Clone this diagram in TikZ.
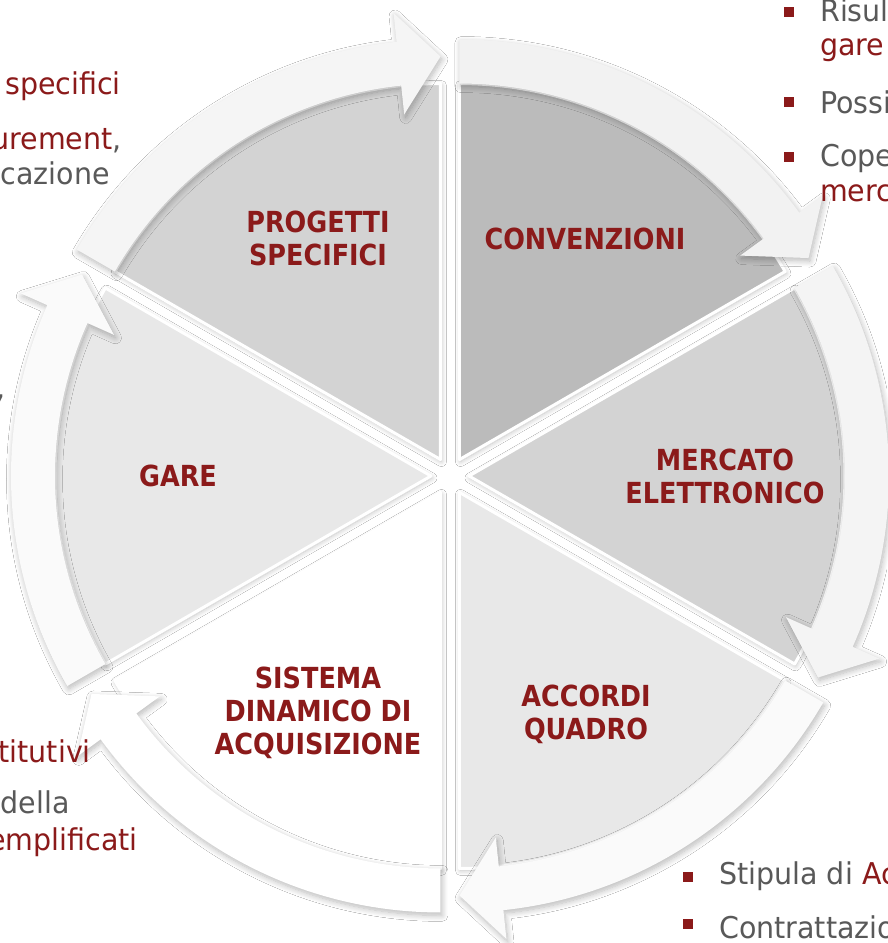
\documentclass[tikz,border=0pt]{standalone}
\usepackage{fontspec}
\setmainfont{DejaVu Sans}[FakeStretch=0.95]
\newfontfamily\lblfont{DejaVu Sans}[FakeStretch=0.88]
\usetikzlibrary{shadows.blur}
\definecolor{txtred}{HTML}{8B1A1A}
\definecolor{txtgrey}{HTML}{595959}
\definecolor{cP}{HTML}{D3D3D3}
\definecolor{cC}{HTML}{BBBBBB}
\definecolor{cM}{HTML}{D3D3D3}
\definecolor{cA}{HTML}{E8E8E8}
\definecolor{cS}{HTML}{FFFFFF}
\definecolor{cG}{HTML}{E8E8E8}
\definecolor{aP}{HTML}{F5F5F5}
\definecolor{aC}{HTML}{F2F2F2}
\definecolor{aM}{HTML}{F4F4F4}
\definecolor{aA}{HTML}{FAFAFA}
\definecolor{aS}{HTML}{FFFFFF}
\definecolor{aG}{HTML}{FAFAFA}
\begin{document}
\begin{tikzpicture}[x=1pt,y=1pt,
  slice/.style={draw=white, line width=3pt, line join=round,
    blur shadow={shadow xshift=1pt, shadow yshift=-2pt, shadow opacity=25, shadow blur radius=5pt, shadow blur steps=10}},
  arrowband/.style={draw=none,
    blur shadow={shadow xshift=1.5pt, shadow yshift=-3pt, shadow opacity=28, shadow blur radius=6pt, shadow blur steps=10}},
  lbl/.style={text=txtred, font=\lblfont\bfseries\fontsize{29}{33}\selectfont, align=center, inner sep=0pt},
  body/.style={inner sep=0pt, font=\fontsize{30}{36}\selectfont},
  redtxt/.style={body, text=txtred},
  greytxt/.style={body, text=txtgrey},
  bulletsq/.style={fill=txtred, minimum size=10pt, inner sep=0pt}
]
\path[use as bounding box] (-450,-467) rectangle (437,476);
\fill[white] (-450,-467) rectangle (437,476);

% pie slices
\foreach \a/\sc in {90/cP,30/cC,-30/cM,-90/cA,-150/cS,150/cG}{
  \pgfmathsetmacro\m{\a+30}
  \pgfmathsetmacro\b{\a+60}
  \path[slice, fill=\sc] (\m:19) -- ++(\a:376) arc[start angle=\a, end angle=\b, radius=376] -- cycle;
}

% circular arrows
\foreach \a/\ac in {90/aP,30/aC,-30/aM,-90/aA,-150/aS,150/aG}{
  \pgfmathsetmacro\m{\a+30}
  \pgfmathsetmacro\b{\a+60}
  \pgfmathsetmacro\h{\a+6}
  \begin{scope}[shift={(\m:19)}]
    \path[arrowband, fill=\ac] (\b:420) arc[start angle=\b, end angle=\h, radius=420]
      -- (\h:449) -- (\a:403) -- (\h:347) -- (\h:376)
      arc[start angle=\h, end angle=\b, radius=376] -- cycle;
  \end{scope}
}

% slice labels
\node[lbl] (lp) at (-132,238) {PROGETTI\\SPECIFICI};
\node[lbl] (lc) at (135,237) {CONVENZIONI};
\node[lbl] (lm) at (275,0) {MERCATO\\ELETTRONICO};
\node[lbl] (la) at (136,-238) {ACCORDI\\QUADRO};
\node[lbl] (ls) at (-132,-237) {SISTEMA\\DINAMICO DI\\ACQUISIZIONE};
\node[lbl] (lg) at (-272,0) {GARE};

% left text fragments
\node[redtxt, anchor=base west] (t1) at (-445,381) {specifici};
\node[redtxt, anchor=base east] (t2) at (-328,326) {urement\textcolor{txtgrey}{,}};
\node[greytxt, anchor=base east] (t3) at (-340,291) {icazione};
\node[greytxt, anchor=base west] (t4) at (-454,78) {,};
\node[redtxt, anchor=base east] (t5) at (-359,-286) {titutivi};
\node[greytxt, anchor=base east] (t6) at (-380,-337) {della};
\node[redtxt, anchor=base east] (t7) at (-312,-374) {emplificati};

% right top text fragments
\node[bulletsq] (b1) at (338.5,464) {};
\node[greytxt, anchor=base west] (r1) at (370,454) {Risul};
\node[redtxt, anchor=base west] (r2) at (370,420) {gare};
\node[bulletsq] (b2) at (338.5,373.5) {};
\node[greytxt, anchor=base west] (r3) at (370,362) {Possi};
\node[bulletsq] (b3) at (338.5,318.5) {};
\node[greytxt, anchor=base west] (r4) at (370,309) {Cope};
\node[redtxt, anchor=base west] (r5) at (370,274) {merc};

% bottom right text fragments
\node[bulletsq] (b4) at (237.5,-400.5) {};
\node[greytxt, anchor=base west] (s1) at (269,-408) {Stipula di \textcolor{txtred}{Ac}};
\node[bulletsq] (b5) at (237.5,-448) {};
\node[greytxt, anchor=base west] (s2) at (269,-462) {Contrattazio};
\end{tikzpicture}
\end{document}
